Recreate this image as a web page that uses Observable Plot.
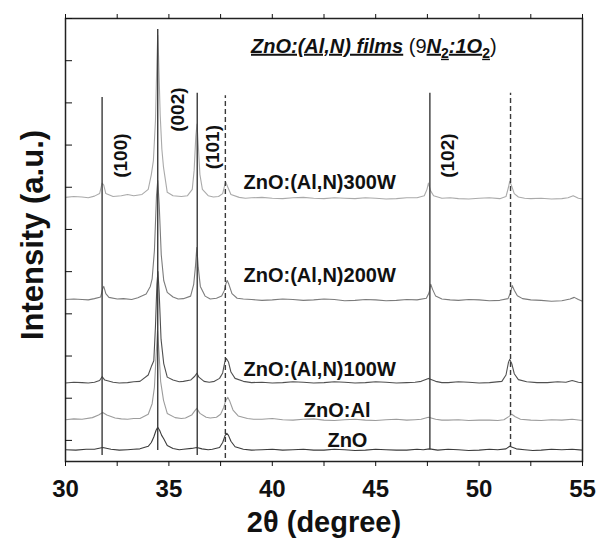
<!DOCTYPE html>
<html><head><meta charset="utf-8">
<script src="https://cdn.jsdelivr.net/npm/d3@7"></script>
<script src="https://cdn.jsdelivr.net/npm/@observablehq/plot@0.6"></script>
<style>body{margin:0;background:#fff;} svg{display:block}</style>
</head><body><div id="chart"></div>
<script>
// XRD patterns: [2theta, intensity (a.u., stacked)]
const zno = [[30,0.28],[30.5,0.27],[31,0.29],[31.4,0.29],[31.8,0.33],[32.2,0.29],[32.6,0.27],[33,0.28],[33.3,0.29],[33.6,0.30],[34.0,0.36],[34.15,0.45],[34.27,0.58],[34.38,0.74],[34.46,0.81],[34.55,0.74],[34.65,0.62],[34.75,0.54],[34.92,0.38],[35.2,0.31],[35.5,0.28],[35.7,0.29],[36.1,0.31],[36.35,0.33],[36.6,0.30],[36.9,0.28],[37.1,0.29],[37.45,0.33],[37.6,0.45],[37.72,0.62],[37.8,0.67],[37.88,0.62],[38.0,0.48],[38.2,0.35],[38.6,0.29],[39,0.27],[39.5,0.28],[40,0.29],[40.5,0.27],[41,0.28],[41.5,0.29],[42,0.27],[42.5,0.27],[43,0.29],[43.5,0.28],[44,0.26],[44.5,0.27],[45,0.29],[45.5,0.28],[46,0.27],[46.5,0.27],[47,0.29],[47.3,0.28],[47.6,0.30],[48,0.27],[48.5,0.29],[49,0.28],[49.5,0.26],[50,0.27],[50.5,0.29],[50.9,0.28],[51.3,0.30],[51.48,0.36],[51.6,0.34],[51.8,0.30],[52.2,0.28],[52.6,0.26],[53,0.27],[53.5,0.29],[54,0.28],[54.5,0.29],[55,0.27]];
const znoAl = [[30,0.99],[30.4,1.01],[30.8,1.0],[31.3,1.04],[31.6,1.1],[31.8,1.16],[32.0,1.1],[32.4,1.03],[32.7,1.01],[33,1.0],[33.3,1.02],[33.6,1.02],[34.0,1.12],[34.19,1.37],[34.3,1.76],[34.38,2.5],[34.45,3.1],[34.52,2.6],[34.6,1.9],[34.74,1.45],[34.92,1.14],[35.3,1.04],[35.6,1.02],[35.8,1.03],[36.1,1.1],[36.25,1.2],[36.35,1.26],[36.5,1.14],[36.8,1.05],[37.0,1.03],[37.3,1.05],[37.5,1.12],[37.65,1.28],[37.75,1.45],[37.85,1.52],[37.95,1.42],[38.1,1.22],[38.35,1.08],[38.8,1.02],[39.1,1.0],[39.5,1.0],[40,1.02],[40.5,0.99],[41,0.98],[41.5,1.0],[42,1.01],[42.5,0.98],[43,0.97],[43.5,0.99],[44,1.0],[44.5,0.98],[45,0.97],[45.5,0.99],[46,1.0],[46.5,0.98],[46.9,0.99],[47.2,1.0],[47.55,1.05],[47.9,1.0],[48.2,0.98],[48.5,0.98],[49,0.99],[49.5,0.97],[50,0.98],[50.5,0.98],[50.9,0.97],[51.2,0.99],[51.45,1.07],[51.58,1.12],[51.75,1.06],[52,1.0],[52.5,0.98],[53,0.97],[53.5,0.99],[54,0.98],[54.5,1.0],[55,0.97]];
const w100 = [[30,1.86],[30.4,1.88],[30.8,1.87],[31.1,1.86],[31.4,1.88],[31.65,1.92],[31.77,2.01],[31.9,1.93],[32.3,1.88],[32.6,1.86],[33,1.87],[33.3,1.89],[33.6,1.9],[34.0,2.05],[34.15,2.25],[34.27,2.39],[34.35,3.2],[34.42,4.2],[34.47,4.5],[34.53,4.0],[34.62,2.9],[34.75,2.32],[34.92,2.0],[35.2,1.93],[35.5,1.89],[35.7,1.9],[36.05,1.93],[36.25,2.02],[36.35,2.09],[36.45,2.0],[36.7,1.9],[36.95,1.88],[37.2,1.9],[37.45,1.97],[37.6,2.1],[37.7,2.35],[37.78,2.44],[37.88,2.36],[38.0,2.12],[38.2,1.97],[38.6,1.9],[39,1.87],[39.5,1.88],[40,1.86],[40.5,1.87],[41,1.89],[41.5,1.88],[42,1.86],[42.5,1.87],[43,1.89],[43.5,1.88],[44,1.86],[44.5,1.87],[45,1.89],[45.5,1.88],[46,1.86],[46.5,1.87],[46.9,1.88],[47.2,1.9],[47.55,1.97],[47.9,1.9],[48.2,1.87],[48.5,1.87],[49,1.89],[49.5,1.88],[50,1.86],[50.5,1.87],[51.1,1.9],[51.3,2.05],[51.42,2.35],[51.48,2.42],[51.58,2.32],[51.7,2.08],[51.9,1.94],[52.3,1.89],[52.8,1.87],[53.3,1.87],[53.8,1.89],[54.2,1.88],[54.5,1.92],[54.8,1.88],[55,1.87]];
const w200 = [[30,3.84],[30.4,3.85],[30.8,3.84],[31.1,3.83],[31.4,3.86],[31.7,3.9],[31.8,4.1],[31.85,4.15],[31.95,3.98],[32.1,3.89],[32.5,3.85],[32.8,3.86],[33.2,3.84],[33.5,3.88],[33.9,3.97],[34.1,4.15],[34.19,4.33],[34.3,5.0],[34.4,6.3],[34.46,6.66],[34.53,6.1],[34.63,4.9],[34.75,4.29],[34.92,4.01],[35.2,3.9],[35.45,3.85],[35.7,3.86],[36.05,3.92],[36.2,4.2],[36.28,4.6],[36.35,5.07],[36.42,4.6],[36.52,4.15],[36.75,3.92],[37.0,3.85],[37.3,3.87],[37.55,3.92],[37.68,4.05],[37.76,4.22],[37.82,4.29],[37.9,4.2],[38.05,3.98],[38.3,3.87],[38.6,3.85],[39,3.84],[39.5,3.82],[40,3.83],[40.5,3.85],[41,3.84],[41.5,3.82],[42,3.83],[42.5,3.85],[43,3.84],[43.5,3.81],[44,3.82],[44.5,3.84],[45,3.83],[45.5,3.81],[46,3.82],[46.5,3.84],[47,3.83],[47.45,3.87],[47.58,4.0],[47.66,4.2],[47.75,4.08],[47.9,3.92],[48.2,3.85],[48.6,3.83],[49,3.82],[49.5,3.84],[50,3.83],[50.5,3.81],[51,3.82],[51.4,3.86],[51.52,4.0],[51.6,4.17],[51.7,4.06],[51.85,3.93],[52.1,3.86],[52.5,3.83],[53,3.82],[53.5,3.80],[54,3.81],[54.4,3.85],[54.6,3.89],[54.8,3.84],[55,3.80]];
const w300 = [[30,6.26],[30.4,6.28],[30.8,6.27],[31.1,6.25],[31.4,6.29],[31.65,6.35],[31.77,6.6],[31.85,6.55],[31.95,6.35],[32.3,6.28],[32.7,6.3],[33.0,6.33],[33.3,6.3],[33.7,6.33],[34.0,6.45],[34.15,6.8],[34.25,7.13],[34.35,8.08],[34.42,9.5],[34.46,10.1],[34.5,9.6],[34.58,8.2],[34.66,7.4],[34.74,6.97],[34.92,6.38],[35.2,6.3],[35.6,6.28],[35.9,6.3],[36.13,6.45],[36.22,6.9],[36.3,7.7],[36.36,8.0],[36.42,7.5],[36.5,6.8],[36.62,6.45],[36.9,6.3],[37.15,6.27],[37.4,6.28],[37.6,6.35],[37.7,6.55],[37.75,6.62],[37.85,6.5],[38.0,6.33],[38.4,6.26],[38.7,6.24],[39,6.25],[39.5,6.26],[40,6.24],[40.5,6.23],[41,6.25],[41.5,6.26],[42,6.24],[42.5,6.23],[43,6.25],[43.5,6.24],[44,6.23],[44.5,6.25],[45,6.24],[45.5,6.22],[46,6.23],[46.5,6.25],[47,6.25],[47.35,6.3],[47.48,6.45],[47.55,6.6],[47.65,6.42],[47.8,6.3],[48.2,6.24],[48.6,6.25],[49,6.23],[49.5,6.22],[50,6.24],[50.5,6.25],[51,6.23],[51.3,6.28],[51.42,6.5],[51.48,6.64],[51.56,6.55],[51.7,6.35],[51.9,6.27],[52.2,6.24],[52.5,6.23],[53,6.24],[53.5,6.22],[54,6.23],[54.3,6.25],[54.55,6.3],[54.8,6.24],[55,6.22]];

// Reference peak lines
const solidLines = [{x:31.77,y1:0.14,y2:8.63},{x:34.46,y1:0.26,y2:10.24},{x:36.37,y1:0.14,y2:8.73},{x:47.62,y1:0.28,y2:8.73}];
const dashedLines = [{x:37.73,y1:0.07,y2:8.67},{x:51.52,y1:0.14,y2:8.73}];

// Labels
const peakLabels = [{t:"(100)",x:32.66,y:7.25},{t:"(002)",x:35.42,y:8.34},{t:"(101)",x:37.13,y:7.45},{t:"(102)",x:48.50,y:7.25}];
const seriesLabels = [{t:"ZnO:(Al,N)300W",x:38.61,y:6.60,a:"start"},{t:"ZnO:(Al,N)200W",x:38.61,y:4.40,a:"start"},{t:"ZnO:(Al,N)100W",x:38.61,y:2.19,a:"start"},{t:"ZnO:Al",x:44.75,y:1.21,a:"end"},{t:"ZnO",x:44.60,y:0.50,a:"end"}];
const titleText = ["ZnO:(Al,N) films (9N2:1O2)"];
const titlePos = {x: 38.97, y: 9.84};
const xTicks = d3.range(30, 55.01, 2.5);
const yTicks = d3.range(0.5, 10.51, 1);

const FONT = "'Liberation Sans', Arial, sans-serif";
const L = (data, stroke) => Plot.line(data, {x: d => d[0], y: d => d[1], stroke, strokeWidth: 1.1});

const chart = Plot.plot({
  width: 608, height: 539,
  marginTop: 18, marginBottom: 78, marginLeft: 65, marginRight: 26,
  style: {fontFamily: FONT, background: "#fff", color: "#111", overflow: "visible"},
  x: {domain: [30, 55]},
  y: {domain: [0, 10.5]},
  marks: [
    L(w300, "#aaaaaa"),
    L(w200, "#7c7c7c"),
    L(w100, "#505050"),
    L(znoAl, "#9c9c9c"),
    L(zno, "#3c3c3c"),
    Plot.ruleX(solidLines, {x: "x", y1: "y1", y2: "y2", stroke: "#3a3a3a", strokeWidth: 1.4}),
    Plot.ruleX(dashedLines, {x: "x", y1: "y1", y2: "y2", stroke: "#3a3a3a", strokeWidth: 1.4, strokeDasharray: "5,3"}),
    Plot.frame({stroke: "#222", strokeWidth: 1.5}),
    Plot.axisX({ticks: xTicks, tickSize: 5, tickPadding: 13, tickFormat: d => d % 5 === 0 ? d : "", fontSize: 24, fontWeight: "bold", label: null}),
    Plot.axisX({anchor: "top", ticks: xTicks, tickSize: 5, tickFormat: () => "", label: null}),
    Plot.axisY({ticks: yTicks, tickSize: -7, tickFormat: () => "", label: null}),
    Plot.text(["2θ (degree)"], {frameAnchor: "bottom", textAnchor: "middle", dy: 70, fontSize: 29, fontWeight: "bold", fill: "#111"}),
    Plot.text(["Intensity (a.u.)"], {frameAnchor: "left", textAnchor: "middle", dx: -32, dy: -5, rotate: -90, fontSize: 31, fontWeight: "bold", fill: "#111"}),
    Plot.text(peakLabels, {x: "x", y: "y", text: "t", rotate: -90, fontSize: 19, fontWeight: "bold", fill: "#111"}),
    Plot.text(seriesLabels, {x: "x", y: "y", text: "t", textAnchor: "start", filter: d => d.a === "start", fontSize: 20, fontWeight: "bold", fill: "#111"}),
    Plot.text(seriesLabels, {x: "x", y: "y", text: "t", textAnchor: "end", filter: d => d.a === "end", fontSize: 20, fontWeight: "bold", fill: "#111"}),
    Plot.text(titleText, {x: () => titlePos.x, y: () => titlePos.y, text: d => d, textAnchor: "start", fontSize: 20, fontWeight: "bold", fill: "#111"})
  ]
});

// rich formatting of the title (italic / underline / subscripts)
d3.select(chart).selectAll("text").filter(function(){ return this.textContent === titleText[0]; }).each(function(){
  const t = d3.select(this);
  t.text(null);
  const parts = [
    {s:"ZnO:(Al,N) films", it:true, u:true, b:true},
    {s:" (9", it:false, u:false, b:false},
    {s:"N", it:true, u:true, b:true},
    {s:"2", sub:true, u:true, b:true},
    {s:":1O", it:true, u:true, b:true},
    {s:"2", sub:true, u:true, b:true},
    {s:")", it:false, u:false, b:false}
  ];
  let shifted = false;
  for (const p of parts) {
    const ts = t.append("tspan").text(p.s)
      .attr("font-style", p.it ? "italic" : "normal")
      .attr("font-weight", p.b ? "bold" : "normal")
      .attr("text-decoration", p.u ? "underline" : "none");
    if (p.sub) { ts.attr("dy", shifted ? 0 : 5).attr("font-size", 14); shifted = true; }
    else if (shifted) { ts.attr("dy", -5); shifted = false; }
  }
});

document.getElementById("chart").appendChild(chart);
</script>
</body></html>
